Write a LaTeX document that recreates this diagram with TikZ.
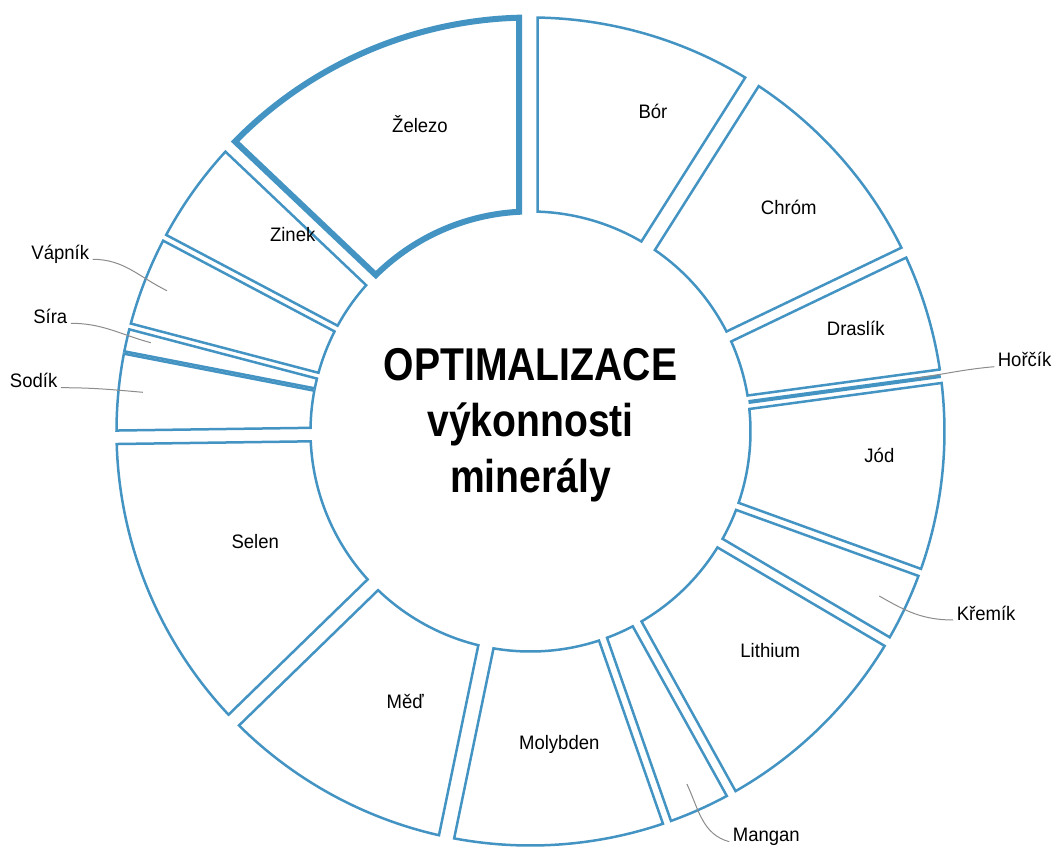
\documentclass[tikz,border=0pt]{standalone}
\usepackage{xcolor}
\usepackage{fontspec}
\usepackage{tikz}
\setmainfont{Liberation Sans}[FakeStretch=0.95]
\newfontfamily\titlefont{Liberation Sans}[FakeStretch=0.85]
\definecolor{sliceblue}{RGB}{67,147,195}
\definecolor{leadergray}{RGB}{140,140,140}
\newcommand{\ringslice}[5][]{%
  \draw[ring,#1] ({#2-asin(#3/414)}:414) arc[start angle={#2-asin(#3/414)}, end angle={#4+asin(#5/414)}, radius=414]
    -- ({#4+asin(#5/220)}:220) arc[start angle={#4+asin(#5/220)}, end angle={#2-asin(#3/220)}, radius=220] -- cycle;}

\begin{document}
\begin{tikzpicture}[x=1pt, y=1pt,
		ring/.style={draw=sliceblue, line width=2.5, fill=white},
		leader/.style={draw=leadergray, line width=1},
		lab/.style={anchor=base, font=\fontsize{19.5}{23}\selectfont},
		title/.style={anchor=base, font=\titlefont\bfseries\fontsize{46}{52}\selectfont}]
				\useasboundingbox (-530.5,-414.5) rectangle (523.5,431.5);
				\ringslice[line width=6]{136.5}{7}{90}{11.5}
				\ringslice{90}{7.2}{57.65}{8}
				\ringslice{57.65}{8}{25.6}{5.5}
				\ringslice{25.6}{5.5}{7.7}{6.6}
				\draw[ring, line width=4] (7.7:220) -- (7.7:414);
				\ringslice{7.7}{7}{-19.9}{3.75}
				\ringslice{-19.9}{3.75}{-30.5}{5}
				\ringslice{-30.5}{5}{-61}{5}
				\ringslice{-61}{5}{-70.75}{4.25}
				\ringslice{-70.75}{4.25}{-101.7}{7.75}
				\ringslice{-101.7}{7.75}{-135.8}{7.5}
				\ringslice{-135.8}{7.5}{-179.2}{6.75}
				\ringslice{180.8}{6.75}{169}{1.2}
				\ringslice{169}{1.2}{165.3}{3}
				\ringslice{165.3}{3}{152.1}{3.25}
				\ringslice{152.1}{3.25}{136.5}{7}
				\node[title] (0) at (0, 51) {OPTIMALIZACE};
				\node[title] (1) at (0, -5) {výkonnosti};
				\node[title] (2) at (0, -61) {minerály};
				\node[lab] (3) at (-110.5, 298.5) {Železo};
				\node[lab] (4) at (122.5, 312.5) {Bór};
				\node[lab] (5) at (258.2, 216.5) {Chróm};
				\node[lab] (6) at (325.2, 96.5) {Draslík};
				\node[lab] (7) at (348.9, -31.2) {Jód};
				\node[lab] (8) at (239.8, -225.8) {Lithium};
				\node[lab] (9) at (28.8, -317.8) {Molybden};
				\node[lab] (10) at (-125.2, -276.8) {Měď};
				\node[lab] (11) at (-275.3, -116.8) {Selen};
				\node[lab] (12) at (-237.8, 189.8) {Zinek};
				\node[lab] (13) at (-470.2, 172.2) {Vápník};
				\node[lab] (14) at (-480.2, 108.2) {Síra};
				\node[lab] (15) at (-496.9, 43.8) {Sodík};
				\node[lab] (16) at (494.1, 64.8) {Hořčík};
				\node[lab] (17) at (455.6, -188.5) {Křemík};
				\node[lab] (18) at (235.8, -410.2) {Mangan};
				\coordinate (19) at (-363.5, 140.8);
				\coordinate (20) at (-379.7, 88.8);
				\coordinate (21) at (-387.6, 39.2);
				\coordinate (22) at (384.5, 53.2);
				\coordinate (23) at (348.8, -164.5);
				\coordinate (24) at (156.4, -352.5);
				\draw[leader] (13.base east) to[out=0, in=154] (19);
				\draw[leader] (14.base east) to[out=0, in=165] (20);
				\draw[leader] (15.base east) to[out=0, in=175] (21);
				\draw[leader] (16.base west) to[out=185, in=8] (22);
				\draw[leader] (17.base west) to[out=180, in=-30] (23);
				\draw[leader] (18.base west) to[out=165, in=-65] (24);
		\end{tikzpicture}
\end{document}
